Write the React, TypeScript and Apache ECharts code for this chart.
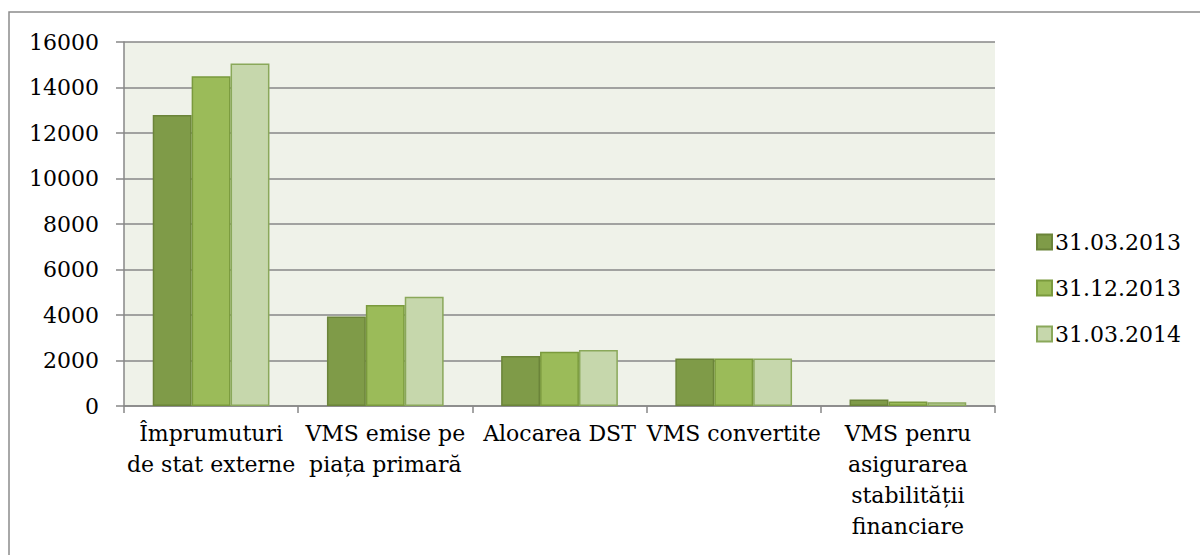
import React, { useEffect, useRef } from "react";
import * as echarts from "echarts";

const categories = [
  "Împrumuturi\nde stat externe",
  "VMS emise pe\npiața primară",
  "Alocarea DST",
  "VMS convertite",
  "VMS penru\nasigurarea\nstabilității\nfinanciare",
];
const seriesNames = ["31.03.2013", "31.12.2013", "31.03.2014"];
const values2013Mar = [12790, 3930, 2200, 2090, 290];
const values2013Dec = [14500, 4440, 2380, 2090, 200];
const values2014Mar = [15050, 4800, 2460, 2090, 170];
const yTicks = { min: 0, max: 16000, interval: 2000 };

const fills = ["#7F9B48", "#9BBB59", "#C6D7AC"];
const borders = ["#6B8439", "#7A9A3D", "#8AA85A"];
const FONT = "DejaVu Serif";

export default function App() {
  const ref = useRef<HTMLDivElement>(null);
  useEffect(() => {
    if (!ref.current) return;
    const chart = echarts.init(ref.current, undefined, { renderer: "svg" });
    const data = [values2013Mar, values2013Dec, values2014Mar];
    chart.setOption({
      animation: false,
      backgroundColor: "#ffffff",
      graphic: [
        {
          type: "rect",
          shape: { x: 9, y: 12, width: 1300, height: 700 },
          style: { fill: "none", stroke: "#8C8C8C", lineWidth: 1.5 },
          silent: true,
        },
      ],
      grid: {
        left: 124,
        top: 42,
        right: 205,
        bottom: 149,
        show: true,
        backgroundColor: "#EFF2E9",
        borderWidth: 0,
      },
      legend: {
        orient: "vertical",
        left: 1036,
        top: 231,
        padding: 0,
        itemWidth: 15,
        itemHeight: 15,
        itemGap: 24,
        icon: "rect",
        textStyle: {
          fontFamily: FONT,
          fontSize: 22,
          lineHeight: 22,
          color: "#000",
          padding: [0, 0, 0, -2],
        },
        data: seriesNames,
      },
      xAxis: {
        type: "category",
        data: categories,
        boundaryGap: true,
        axisLine: { lineStyle: { color: "#878787", width: 1.5 } },
        axisTick: {
          show: true,
          length: 7,
          lineStyle: { color: "#878787", width: 1.5 },
        },
        axisLabel: {
          interval: 0,
          margin: 12,
          fontFamily: FONT,
          fontSize: 22,
          lineHeight: 31,
          color: "#000",
          align: "center",
        },
      },
      yAxis: {
        type: "value",
        min: yTicks.min,
        max: yTicks.max,
        interval: yTicks.interval,
        axisLine: { show: true, lineStyle: { color: "#878787", width: 1.5 } },
        axisTick: {
          show: true,
          length: 8,
          lineStyle: { color: "#878787", width: 1.5 },
        },
        splitLine: { lineStyle: { color: "#878787", width: 1.5 } },
        axisLabel: {
          margin: 25,
          fontFamily: FONT,
          fontSize: 22,
          color: "#000",
          formatter: (v: number) => String(v),
        },
      },
      series: seriesNames.map((name, i) => ({
        name,
        type: "bar",
        data: data[i],
        barGap: "0%",
        barCategoryGap: "33%",
        itemStyle: {
          color: fills[i],
          borderColor: borders[i],
          borderWidth: 1.5,
        },
      })),
    });
    return () => chart.dispose();
  }, []);
  return (
    <div
      ref={ref}
      style={{ position: "fixed", left: 0, top: 0, width: 1200, height: 555 }}
    />
  );
}
